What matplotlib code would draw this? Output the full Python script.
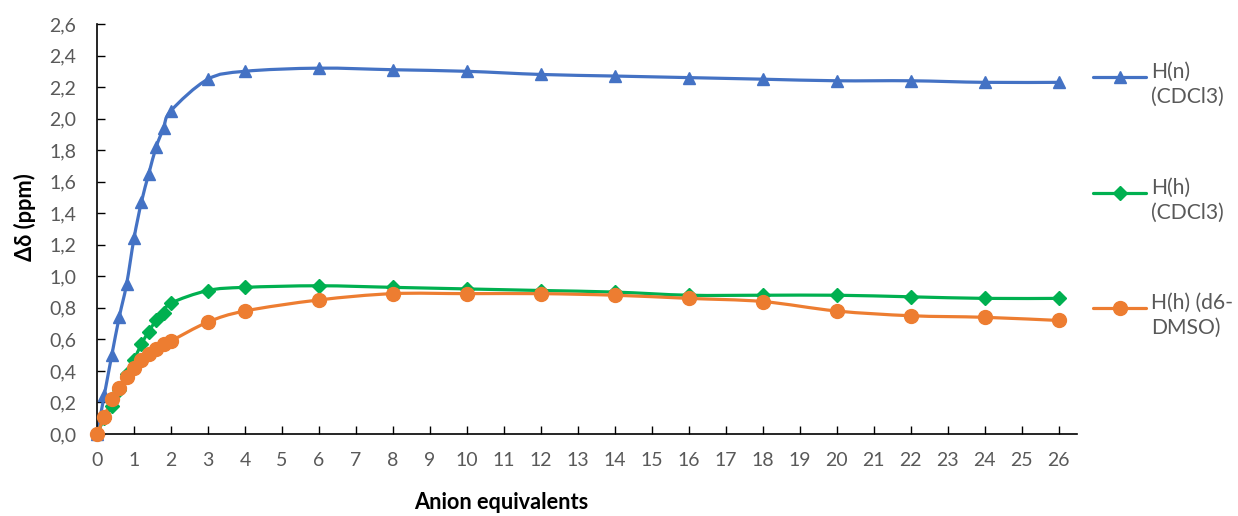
import matplotlib
matplotlib.use("Agg")
import matplotlib.pyplot as plt
import numpy as np
from matplotlib.path import Path
from matplotlib.patches import PathPatch
from matplotlib.lines import Line2D

plt.rcParams['font.family'] = ['Lato', 'DejaVu Sans']

equiv = [0, 0.2, 0.4, 0.6, 0.8, 1.0, 1.2, 1.4, 1.6, 1.8, 2.0,
         3, 4, 6, 8, 10, 12, 14, 16, 18, 20, 22, 24, 26]
hn_cdcl3 = [0.0, 0.25, 0.50, 0.74, 0.95, 1.24, 1.47, 1.65, 1.82, 1.94, 2.05,
            2.25, 2.30, 2.32, 2.31, 2.30, 2.28, 2.27, 2.26, 2.25, 2.24, 2.24, 2.23, 2.23]
hh_cdcl3 = [0.0, 0.10, 0.18, 0.28, 0.38, 0.47, 0.57, 0.65, 0.72, 0.77, 0.83,
            0.91, 0.93, 0.94, 0.93, 0.92, 0.91, 0.90, 0.88, 0.88, 0.88, 0.87, 0.86, 0.86]
hh_dmso = [0.0, 0.11, 0.22, 0.29, 0.36, 0.42, 0.47, 0.51, 0.54, 0.57, 0.59,
           0.71, 0.78, 0.85, 0.89, 0.89, 0.89, 0.88, 0.86, 0.84, 0.78, 0.75, 0.74, 0.72]

labels = ["H(n)\n(CDCl3)", "H(h)\n(CDCl3)", "H(h) (d6-\nDMSO)"]
colors = ["#4472C4", "#00B050", "#ED7D31"]
markers = ["^", "D", "o"]
msizes = [9, 7, 10]


def smooth_path(x, y):
    # Excel-style smoothed line: cubic Bezier through the points
    x = np.asarray(x, float)
    y = np.asarray(y, float)
    verts = [(x[0], y[0])]
    codes = [Path.MOVETO]
    n = len(x)
    for i in range(n - 1):
        i0 = max(i - 1, 0)
        i3 = min(i + 2, n - 1)
        c1 = (x[i] + (x[i + 1] - x[i0]) / 6, y[i] + (y[i + 1] - y[i0]) / 6)
        c2 = (x[i + 1] - (x[i3] - x[i]) / 6, y[i + 1] - (y[i3] - y[i]) / 6)
        verts += [c1, c2, (x[i + 1], y[i + 1])]
        codes += [Path.CURVE4] * 3
    return Path(verts, codes)


fig = plt.figure(figsize=(12.38, 5.16), dpi=100)
ax = fig.add_axes([97 / 1238, 82 / 516, 980 / 1238, 410 / 516])

for ys, c, m, ms in zip([hn_cdcl3, hh_cdcl3, hh_dmso], colors, markers, msizes):
    ax.add_patch(PathPatch(smooth_path(equiv, ys), facecolor='none',
                           edgecolor=c, lw=2.3, capstyle='round', zorder=2))
    ax.plot(equiv, ys, linestyle='none', marker=m, ms=ms, color=c, zorder=3,
            clip_on=False)

ax.set_xlim(0, 26.5)
ax.set_ylim(0, 2.6)
ax.set_xticks(range(0, 27))
ax.set_yticks(np.arange(0, 2.61, 0.2))
ax.set_yticklabels([f"{v:.1f}".replace('.', ',') for v in np.arange(0, 2.61, 0.2)])
ax.tick_params(direction='in', length=6, width=1, colors='black',
               labelcolor='#595959', labelsize=14)
ax.tick_params(axis='x', pad=13)
ax.tick_params(axis='y', pad=15)
for s in ['top', 'right']:
    ax.spines[s].set_visible(False)
for s in ['left', 'bottom']:
    ax.spines[s].set_linewidth(1.2)

ax.set_xlabel("Anion equivalents", fontsize=15.7, fontweight='bold')
ax.xaxis.set_label_coords(0.413, -0.168)
ax.xaxis.label.set_va('center')
ax.set_ylabel("Δδ (ppm)", fontsize=15.7, fontweight='bold')
ax.yaxis.set_label_coords(-0.073, 0.53)
ax.yaxis.label.set_va('center')

# legend on the right
leg_y = [77, 193, 308]
for yy, lab, c, m, ms in zip(leg_y, labels, colors, markers, msizes):
    yf = 1 - yy / 516
    fig.add_artist(Line2D([1093 / 1238, 1146 / 1238], [yf, yf], color=c, lw=2.3,
                          solid_capstyle='round'))
    fig.add_artist(Line2D([1119.5 / 1238], [yf], marker=m, ms=ms, color=c))
    fig.text(1151 / 1238, 1 - (yy - 15) / 516, lab, fontsize=15.2, color='#595959',
             va='top', ha='left', linespacing=1.3)

fig.savefig("out.png", dpi=100)
